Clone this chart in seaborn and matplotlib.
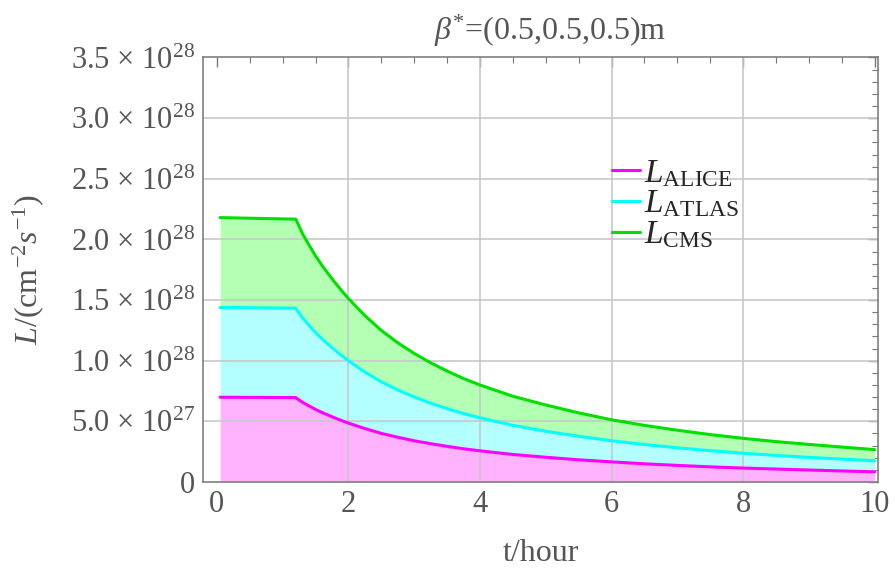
import numpy as np
import pandas as pd
import matplotlib
matplotlib.use("Agg")
import matplotlib.pyplot as plt
from matplotlib.ticker import FixedLocator, MultipleLocator
import seaborn as sns

# Luminosity versus time for the three experiments (units of 1e28 cm^-2 s^-1)
t_hours = [0.05, 1.2, 1.3, 1.4, 1.5, 1.6, 1.7, 1.8, 1.9, 2.0, 2.25, 2.5, 2.75,
           3.0, 3.25, 3.5, 3.75, 4.0, 4.5, 5.0, 5.5, 6.0, 6.5, 7.0, 7.5, 8.0,
           8.5, 9.0, 9.5, 10.0]
lumi_alice = [0.699, 0.696, 0.658, 0.628, 0.599, 0.573, 0.550, 0.527, 0.506,
              0.486, 0.441, 0.401, 0.369, 0.340, 0.316, 0.294, 0.274, 0.257,
              0.227, 0.204, 0.183, 0.166, 0.150, 0.137, 0.125, 0.115, 0.107,
              0.099, 0.091, 0.084]
lumi_atlas = [1.439, 1.433, 1.355, 1.292, 1.233, 1.180, 1.132, 1.085, 1.042,
              1.000, 0.907, 0.826, 0.759, 0.701, 0.650, 0.605, 0.564, 0.529,
              0.467, 0.418, 0.377, 0.340, 0.309, 0.282, 0.258, 0.237, 0.219,
              0.203, 0.189, 0.175]
lumi_cms = [2.180, 2.167, 2.050, 1.955, 1.865, 1.785, 1.712, 1.642, 1.576,
            1.513, 1.372, 1.250, 1.148, 1.060, 0.983, 0.915, 0.853, 0.800,
            0.707, 0.635, 0.570, 0.513, 0.467, 0.427, 0.391, 0.360, 0.333,
            0.310, 0.288, 0.267]
scale = 1e28

series_names = ["ALICE", "ATLAS", "CMS"]
line_colors = {"ALICE": "#ff00ff", "ATLAS": "#00ffff", "CMS": "#00e000"}
fill_colors = {"ALICE": "#ffb3ff", "ATLAS": "#b3ffff", "CMS": "#b3ffb3"}

y_ticks = [0, 0.5, 1.0, 1.5, 2.0, 2.5, 3.0, 3.5]
y_tick_labels = ["0",
                 r"5.0 $\times$ 10$^{27}$",
                 r"1.0 $\times$ 10$^{28}$",
                 r"1.5 $\times$ 10$^{28}$",
                 r"2.0 $\times$ 10$^{28}$",
                 r"2.5 $\times$ 10$^{28}$",
                 r"3.0 $\times$ 10$^{28}$",
                 r"3.5 $\times$ 10$^{28}$"]
x_ticks = [0, 2, 4, 6, 8, 10]

t = np.array(t_hours)
values = {
    "ALICE": np.array(lumi_alice) * scale,
    "ATLAS": np.array(lumi_atlas) * scale,
    "CMS": np.array(lumi_cms) * scale,
}
df = pd.concat([
    pd.DataFrame({"t": t, "L": values[n], "exp": n}) for n in series_names
], ignore_index=True)

sns.set_theme(style="white")
plt.rcParams["font.family"] = ["Liberation Serif", "DejaVu Serif"]
plt.rcParams["mathtext.fontset"] = "custom"
plt.rcParams["mathtext.rm"] = "Liberation Serif"
plt.rcParams["mathtext.it"] = "Liberation Serif:italic"
plt.rcParams["mathtext.bf"] = "Liberation Serif:bold"

W, H = 894, 568
fig = plt.figure(figsize=(W / 100, H / 100), dpi=100)
ax_l, ax_r, ax_t, ax_b = 203, 878, 57.5, 482
ax = fig.add_axes([ax_l / W, 1 - ax_b / H, (ax_r - ax_l) / W, (ax_b - ax_t) / H])

# stacked bands between consecutive curves
lower = np.zeros_like(t)
for n in series_names:
    ax.fill_between(t, lower, values[n], color=fill_colors[n], lw=0, zorder=1)
    lower = values[n]

sns.lineplot(data=df, x="t", y="L", hue="exp", palette=line_colors,
             hue_order=series_names, lw=2.2, ax=ax, zorder=3, legend=False)

ax.set_xlim(-0.21, 10.05)
ax.set_ylim(0, 3.5 * scale)

ax.xaxis.set_major_locator(FixedLocator(x_ticks))
ax.xaxis.set_minor_locator(MultipleLocator(0.5))
ax.yaxis.set_major_locator(FixedLocator([v * scale for v in y_ticks]))
ax.yaxis.set_minor_locator(MultipleLocator(0.1 * scale))
ax.set_yticklabels(y_tick_labels)
ax.set_xticklabels([str(v) for v in x_ticks])

grey = "#555555"
ax.tick_params(which="both", direction="in", top=True, right=True,
               color="#777777", labelcolor=grey, labelsize=22)
ax.tick_params(which="major", length=7, width=1.0)
ax.tick_params(which="minor", length=4, width=0.8)
ax.tick_params(axis="x", pad=6)
ax.tick_params(axis="y", pad=6)
ax.tick_params(right=True, labelright=False, top=True, labeltop=False)
for s in ax.spines.values():
    s.set_color("#808080")
    s.set_linewidth(1.2)

# grid on the major positions inside the frame
for xv in [2, 4, 6, 8]:
    ax.axvline(xv, color="#c8c8c8", lw=1.2, zorder=2)
for yv in y_ticks[1:-1]:
    ax.axhline(yv * scale, color="#c8c8c8", lw=1.2, zorder=2)

ax.set_xlabel("t/hour", fontsize=23, color=grey, labelpad=14)
ax.set_ylabel(r"$L/(\mathrm{cm}^{-2}s^{-1})$", fontsize=23, color=grey)
ax.yaxis.set_label_coords(-0.232, 0.5)

fig.text(550 / W, 1 - 31 / H, r"$\beta^{*}$=(0.5,0.5,0.5)m", fontsize=23,
         color=grey, ha="center", va="center")

handles = [plt.Line2D([], [], color=line_colors[n], lw=2.2) for n in series_names]
labels = [r"$L_{\mathrm{" + n + "}}$" for n in series_names]
ax.legend(handles, labels, loc="upper left", frameon=False, fontsize=24,
          bbox_to_anchor=((612 - ax_l) / (ax_r - ax_l), (ax_b - 158) / (ax_b - ax_t)),
          handlelength=0.85, handletextpad=0.1, labelspacing=0.0,
          borderpad=0, borderaxespad=0)

fig.savefig("out.png", dpi=100)
